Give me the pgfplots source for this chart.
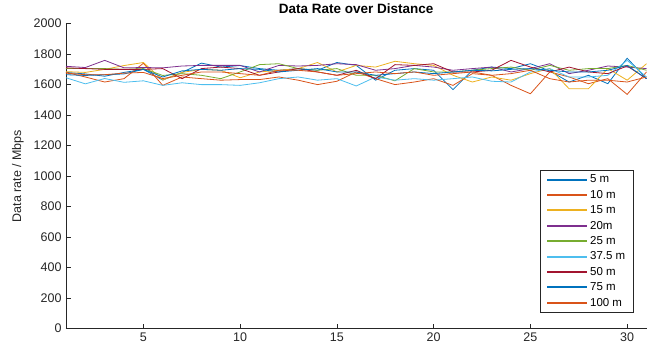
\documentclass[border=0pt]{standalone}
\usepackage{fontspec}
\setmainfont{Liberation Sans}
\usepackage{pgfplots}
\pgfplotsset{compat=1.18}
\definecolor{mlblue}{rgb}{0,0.447,0.741}
\definecolor{mlorange}{rgb}{0.85,0.325,0.098}
\definecolor{mlyellow}{rgb}{0.929,0.694,0.125}
\definecolor{mlpurple}{rgb}{0.494,0.184,0.556}
\definecolor{mlgreen}{rgb}{0.466,0.674,0.188}
\definecolor{mlcyan}{rgb}{0.301,0.745,0.933}
\definecolor{mlred}{rgb}{0.635,0.078,0.184}
\definecolor{axgray}{gray}{0.15}
\begin{document}
\begin{tikzpicture}
\begin{axis}[
  name=ax,
  scale only axis,
  width=580.5pt, height=305pt,
  xmin=1, xmax=31, ymin=0, ymax=2000,
  xtick={5,10,15,20,25,30},
  ytick={0,200,...,2000},
  axis x line*=bottom, axis y line*=left,
  axis line style={axgray, line width=0.6pt},
  tick style={axgray, line width=0.6pt},
  tick align=inside,
  major tick length=5pt,
  /pgf/number format/assume math mode=true,
  /pgf/number format/1000 sep={},
  ticklabel style={font=\fontsize{12.5}{14}\selectfont, text=axgray},
  xticklabel style={yshift=-1pt},
  yticklabel style={xshift=-1pt},
  ylabel={Data rate / Mbps},
  ylabel style={font=\fontsize{12.5}{14}\selectfont, text=axgray, at={(axis description cs:-0.0827,0.5)}, anchor=center},
  title={Data Rate over Distance},
  title style={font=\fontsize{13.5}{15}\selectfont\bfseries, at={(axis description cs:0.5,1)}, anchor=base, yshift=4.5pt},
  legend style={at={(axis description cs:0.9767,0.052)}, anchor=south east, draw=axgray, font=\fontsize{11.5}{13}\selectfont, inner xsep=5.5pt, inner ysep=3pt, row sep=1.9pt, cells={anchor=west}},
  legend cell align=left,
  legend image code/.code={\draw[line width=2pt] (0pt,0pt) -- (40pt,0pt);},
  every axis plot/.append style={line width=0.8pt},
]
\addplot[color=mlblue, legend image post style={draw=mlblue}] coordinates {(1,1680)(2,1670)(3,1655)(4,1680)(5,1700)(6,1630)(7,1680)(8,1741)(9,1715)(10,1725)(11,1705)(12,1694)(13,1705)(14,1694)(15,1745)(16,1726)(17,1629)(18,1694)(19,1705)(20,1694)(21,1567)(22,1694)(23,1715)(24,1705)(25,1737)(26,1690)(27,1617)(28,1661)(29,1606)(30,1773)(31,1639)};
\addlegendentry{5 m}
\addplot[color=mlorange, legend image post style={draw=mlorange}] coordinates {(1,1680)(2,1650)(3,1617)(4,1639)(5,1740)(6,1595)(7,1650)(8,1639)(9,1629)(10,1633)(11,1633)(12,1650)(13,1629)(14,1600)(15,1622)(16,1683)(17,1639)(18,1600)(19,1617)(20,1639)(21,1595)(22,1672)(23,1661)(24,1595)(25,1540)(26,1683)(27,1650)(28,1606)(29,1639)(30,1536)(31,1683)};
\addlegendentry{10 m}
\addplot[color=mlyellow, legend image post style={draw=mlyellow}] coordinates {(1,1685)(2,1680)(3,1700)(4,1725)(5,1745)(6,1630)(7,1680)(8,1700)(9,1694)(10,1645)(11,1683)(12,1694)(13,1705)(14,1745)(15,1683)(16,1726)(17,1715)(18,1753)(19,1737)(20,1726)(21,1661)(22,1617)(23,1650)(24,1629)(25,1672)(26,1705)(27,1573)(28,1573)(29,1705)(30,1629)(31,1737)};
\addlegendentry{15 m}
\addplot[color=mlpurple, legend image post style={draw=mlpurple}] coordinates {(1,1720)(2,1712)(3,1759)(4,1710)(5,1712)(6,1710)(7,1722)(8,1726)(9,1726)(10,1726)(11,1683)(12,1726)(13,1722)(14,1726)(15,1737)(16,1731)(17,1694)(18,1705)(19,1726)(20,1715)(21,1694)(22,1705)(23,1715)(24,1683)(25,1705)(26,1737)(27,1672)(28,1694)(29,1722)(30,1715)(31,1705)};
\addlegendentry{20m}
\addplot[color=mlgreen, legend image post style={draw=mlgreen}] coordinates {(1,1705)(2,1705)(3,1705)(4,1700)(5,1705)(6,1660)(7,1672)(8,1661)(9,1639)(10,1683)(11,1731)(12,1737)(13,1705)(14,1694)(15,1705)(16,1661)(17,1661)(18,1625)(19,1705)(20,1683)(21,1683)(22,1694)(23,1705)(24,1715)(25,1694)(26,1726)(27,1694)(28,1705)(29,1705)(30,1726)(31,1694)};
\addlegendentry{25 m}
\addplot[color=mlcyan, legend image post style={draw=mlcyan}] coordinates {(1,1645)(2,1605)(3,1640)(4,1615)(5,1625)(6,1595)(7,1612)(8,1600)(9,1600)(10,1595)(11,1612)(12,1639)(13,1650)(14,1629)(15,1639)(16,1591)(17,1650)(18,1629)(19,1639)(20,1629)(21,1639)(22,1650)(23,1622)(24,1617)(25,1683)(26,1705)(27,1650)(28,1650)(29,1661)(30,1759)(31,1650)};
\addlegendentry{37.5 m}
\addplot[color=mlred, legend image post style={draw=mlred}] coordinates {(1,1710)(2,1705)(3,1700)(4,1700)(5,1700)(6,1705)(7,1639)(8,1705)(9,1715)(10,1705)(11,1661)(12,1683)(13,1705)(14,1683)(15,1661)(16,1694)(17,1639)(18,1731)(19,1726)(20,1737)(21,1683)(22,1683)(23,1694)(24,1759)(25,1715)(26,1683)(27,1715)(28,1683)(29,1672)(30,1722)(31,1639)};
\addlegendentry{50 m}
\addplot[color=mlblue, legend image post style={draw=mlblue}] coordinates {(1,1665)(2,1660)(3,1665)(4,1670)(5,1700)(6,1650)(7,1690)(8,1700)(9,1694)(10,1705)(11,1700)(12,1683)(13,1694)(14,1705)(15,1683)(16,1683)(17,1661)(18,1672)(19,1683)(20,1672)(21,1683)(22,1694)(23,1690)(24,1700)(25,1705)(26,1694)(27,1683)(28,1683)(29,1694)(30,1726)(31,1639)};
\addlegendentry{75 m}
\addplot[color=mlorange, legend image post style={draw=mlorange}] coordinates {(1,1675)(2,1665)(3,1665)(4,1675)(5,1680)(6,1640)(7,1661)(8,1683)(9,1683)(10,1672)(11,1661)(12,1694)(13,1694)(14,1683)(15,1661)(16,1672)(17,1683)(18,1672)(19,1683)(20,1661)(21,1672)(22,1683)(23,1661)(24,1672)(25,1694)(26,1639)(27,1617)(28,1629)(29,1629)(30,1617)(31,1650)};
\addlegendentry{100 m}
\end{axis}
\path[use as bounding box] ([xshift=-66pt,yshift=-27.7pt]ax.south west) rectangle ([xshift=13.5pt,yshift=18pt]ax.north east);
\end{tikzpicture}
\end{document}
